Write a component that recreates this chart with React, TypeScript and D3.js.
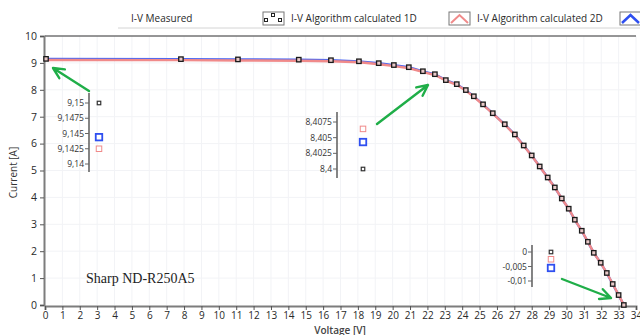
import React, { useEffect, useRef } from "react";
import * as d3 from "d3";

// measured I-V points
const voltage = [
  0.06, 7.82, 11.1, 14.6, 16.45, 18.06, 19.2, 20.07, 20.93, 21.74, 22.43, 23.06, 23.69, 24.21,
  24.67, 25.2, 25.76, 26.45, 27.03, 27.54, 28.0, 28.46, 28.92, 29.33, 29.73, 30.13, 30.48, 30.88,
  31.23, 31.57, 31.97, 32.32, 32.66, 33.0, 33.3,
];
const currentMeasured = [
  9.15, 9.14, 9.13, 9.12, 9.1, 9.06, 8.99, 8.92, 8.84, 8.69, 8.58, 8.36, 8.21, 7.99,
  7.76, 7.46, 7.13, 6.72, 6.34, 5.93, 5.56, 5.15, 4.74, 4.37, 3.96, 3.58, 3.17, 2.76,
  2.35, 1.94, 1.57, 1.19, 0.78, 0.37, 0.0,
];
// model curves follow the measured points within a pixel
const current1D = [
  9.1425, 9.135, 9.125, 9.115, 9.095, 9.055, 8.985, 8.915, 8.835, 8.69, 8.575, 8.365, 8.205, 7.985,
  7.755, 7.455, 7.125, 6.715, 6.335, 5.925, 5.555, 5.145, 4.735, 4.365, 3.955, 3.575, 3.165, 2.755,
  2.345, 1.935, 1.565, 1.185, 0.775, 0.365, -0.0025,
];
const current2D = [
  9.1445, 9.137, 9.127, 9.117, 9.097, 9.057, 8.987, 8.917, 8.837, 8.688, 8.577, 8.363, 8.207, 7.987,
  7.757, 7.457, 7.127, 6.717, 6.337, 5.927, 5.557, 5.147, 4.737, 4.367, 3.957, 3.577, 3.167, 2.757,
  2.347, 1.937, 1.567, 1.187, 0.777, 0.367, -0.0055,
];

const xTicks = d3.range(0, 35);
const yTicks = d3.range(0, 11);

// zoomed insets: [measured, 1D, 2D]
const inset1Ticks = [9.14, 9.1425, 9.145, 9.1475, 9.15];
const inset1Values = [9.15, 9.1425, 9.1444];
const inset2Ticks = [8.4, 8.4025, 8.405, 8.4075];
const inset2Values = [8.4, 8.4064, 8.4043];
const inset3Ticks = [-0.01, -0.005, 0];
const inset3Values = [0, -0.0025, -0.0055];

const legendLabels = ["I-V Measured", "I-V Algorithm calculated 1D", "I-V Algorithm calculated 2D"];

const W = 640;
const H = 335;
const FONT = "'Open Sans', 'DejaVu Sans', sans-serif";
const GREEN = "#1fae48";
const RED = "#f08a8a";
const BLUE = "#2f4ff0";

const fmt = (v: number) => String(v).replace(".", ",");

export default function App() {
  const svgRef = useRef<SVGSVGElement | null>(null);

  useEffect(() => {
    if (!svgRef.current) return;
    const svg = d3.select(svgRef.current);
    svg.selectAll("*").remove();

    const x = d3.scaleLinear().domain([0, 34]).range([45, 636]);
    const y = d3.scaleLinear().domain([0, 10]).range([305, 36]);

    // faint grid
    const grid = svg.append("g");
    grid.selectAll("line.v").data(xTicks.slice(1)).join("line")
      .attr("x1", (d) => x(d)).attr("x2", (d) => x(d))
      .attr("y1", y(10)).attr("y2", y(0))
      .attr("stroke", "#f2f3f6");
    grid.selectAll("line.h").data(yTicks.slice(1)).join("line")
      .attr("x1", x(0)).attr("x2", x(34))
      .attr("y1", (d) => y(d)).attr("y2", (d) => y(d))
      .attr("stroke", "#f2f3f6");

    // frame top
    svg.append("line").attr("x1", x(0)).attr("x2", x(34)).attr("y1", y(10)).attr("y2", y(10))
      .attr("stroke", "#333").attr("stroke-width", 1);

    // axes
    svg.append("g")
      .attr("transform", `translate(${x(0) - 1},0)`)
      .call(d3.axisLeft(y).tickValues(yTicks).tickSize(4).tickPadding(3))
      .call((g) => {
        g.select(".domain").attr("stroke", "#7d7d7d").attr("stroke-width", 2);
        g.selectAll(".tick line").attr("stroke", "#555");
        g.selectAll(".tick text").attr("fill", "#2a2a2a").style("font-size", "10.5px").style("font-family", FONT);
      });

    svg.append("g")
      .attr("transform", `translate(0,${y(0) + 1})`)
      .call(d3.axisBottom(x).tickValues(xTicks).tickSize(4).tickPadding(2))
      .call((g) => {
        g.select(".domain").attr("stroke", "#7d7d7d").attr("stroke-width", 2);
        g.selectAll(".tick line").attr("stroke", "#555");
        g.selectAll(".tick text").attr("fill", "#2a2a2a").style("font-size", "10px").style("font-family", FONT);
      });

    svg.append("text")
      .attr("transform", `translate(17,${(y(0) + y(10)) / 2 + 2}) rotate(-90)`)
      .attr("text-anchor", "middle")
      .style("font-family", FONT).style("font-size", "10px").attr("fill", "#333")
      .text("Current [A]");
    svg.append("text")
      .attr("x", 340).attr("y", 333.5)
      .attr("text-anchor", "middle")
      .style("font-family", FONT).style("font-size", "10px").style("font-weight", "600").attr("fill", "#444")
      .text("Voltage [V]");

    // curves
    const idx = d3.range(voltage.length);
    const line = (vals: number[]) =>
      d3.line<number>().x((i) => x(voltage[i])).y((i) => y(vals[i]))(idx);

    svg.append("path").attr("d", line(current2D)).attr("fill", "none")
      .attr("stroke", BLUE).attr("stroke-width", 2.4).attr("opacity", 0.85);
    svg.append("path").attr("d", line(current1D)).attr("fill", "none")
      .attr("stroke", RED).attr("stroke-width", 2.4).attr("transform", "translate(0.6,0.9)");

    svg.append("g").selectAll("rect").data(idx).join("rect")
      .attr("x", (i) => x(voltage[i]) - 2.2).attr("y", (i) => y(currentMeasured[i]) - 2.2)
      .attr("width", 4.4).attr("height", 4.4)
      .attr("fill", "#e9c9c9").attr("stroke", "#1a1a1a").attr("stroke-width", 1.3);

    // insets
    const inset = (axisX: number, domain: [number, number], range: [number, number],
      extent: [number, number], ticks: number[], vals: number[], markerX: number) => {
      const s = d3.scaleLinear().domain(domain).range(range);
      const g = svg.append("g");
      g.append("line").attr("x1", axisX).attr("x2", axisX).attr("y1", extent[0]).attr("y2", extent[1])
        .attr("stroke", "#666").attr("stroke-width", 1.6);
      g.selectAll("line.t").data(ticks).join("line")
        .attr("x1", axisX - 4).attr("x2", axisX).attr("y1", (d) => s(d)).attr("y2", (d) => s(d))
        .attr("stroke", "#666");
      g.selectAll("text").data(ticks).join("text")
        .attr("x", axisX - 5).attr("y", (d) => s(d) + 3)
        .attr("text-anchor", "end")
        .style("font-family", FONT).style("font-size", "8.5px").attr("fill", "#333")
        .text((d) => fmt(d));
      const styles = [
        { size: 3.5, stroke: "#333", w: 1.2 },
        { size: 5.5, stroke: RED, w: 1 },
        { size: 6.5, stroke: BLUE, w: 1.8 },
      ];
      vals.forEach((v, i) => {
        const st = styles[i];
        g.append("rect")
          .attr("x", markerX - st.size / 2).attr("y", s(v) - st.size / 2)
          .attr("width", st.size).attr("height", st.size)
          .attr("fill", "#fff").attr("stroke", st.stroke).attr("stroke-width", st.w);
      });
    };
    inset(89, [9.14, 9.15], [164, 103], [93, 172], inset1Ticks, inset1Values, 99);
    inset(337, [8.4, 8.4075], [169, 122], [112, 178], inset2Ticks, inset2Values, 363);
    inset(532, [-0.01, 0], [281, 252], [245, 287], inset3Ticks, inset3Values, 551);

    // green arrows
    const arrows = [
      { from: [89, 91], to: [53, 68] },
      { from: [377, 124], to: [428, 85] },
      { from: [562, 279], to: [611, 298] },
    ];
    arrows.forEach(({ from, to }) => {
      const ang = Math.atan2(to[1] - from[1], to[0] - from[0]);
      const len = 12;
      const a1 = ang + Math.PI - 0.45;
      const a2 = ang + Math.PI + 0.45;
      svg.append("path")
        .attr("d", `M${from[0]},${from[1]}L${to[0]},${to[1]}` +
          `M${to[0] + len * Math.cos(a1)},${to[1] + len * Math.sin(a1)}L${to[0]},${to[1]}` +
          `L${to[0] + len * Math.cos(a2)},${to[1] + len * Math.sin(a2)}`)
        .attr("fill", "none").attr("stroke", GREEN).attr("stroke-width", 2.4)
        .attr("stroke-linecap", "round").attr("stroke-linejoin", "round");
    });

    svg.append("text")
      .attr("x", 86).attr("y", 283)
      .style("font-family", "'Liberation Serif', 'DejaVu Serif', serif").style("font-size", "14px")
      .attr("fill", "#222")
      .text("Sharp ND-R250A5");

    // legend
    const legend = svg.append("g").style("font-family", FONT).style("font-size", "10px").attr("fill", "#2a2a2a");
    legend.append("line").attr("x1", 118).attr("x2", W).attr("y1", 28).attr("y2", 28)
      .attr("stroke", "#d4d4d4");
    legend.append("text").attr("x", 131).attr("y", 22).text(legendLabels[0]);
    legend.append("text").attr("x", 291).attr("y", 22).text(legendLabels[1]);
    legend.append("text").attr("x", 477).attr("y", 22).text(legendLabels[2]);

    const boxes = [263, 449, 620];
    boxes.forEach((bx) => {
      legend.append("rect").attr("x", bx).attr("y", 12).attr("width", 21).attr("height", 13)
        .attr("fill", "#fff").attr("stroke", "#777");
    });
    // measured icon: small squares
    [[266, 20], [273, 15], [280, 20]].forEach(([sx, sy]) => {
      legend.append("rect").attr("x", sx - 1.5).attr("y", sy - 1.5).attr("width", 3).attr("height", 3)
        .attr("fill", "none").attr("stroke", "#222").attr("stroke-width", 1);
    });
    legend.append("path").attr("d", "M451,23L459.5,15L468,23").attr("fill", "none")
      .attr("stroke", RED).attr("stroke-width", 2);
    legend.append("path").attr("d", "M622,23L630.5,15L639,23").attr("fill", "none")
      .attr("stroke", BLUE).attr("stroke-width", 2.5);
  }, []);

  return (
    <svg
      ref={svgRef}
      width={W}
      height={H}
      style={{ position: "absolute", left: 0, top: 0, background: "#fff" }}
    />
  );
}
